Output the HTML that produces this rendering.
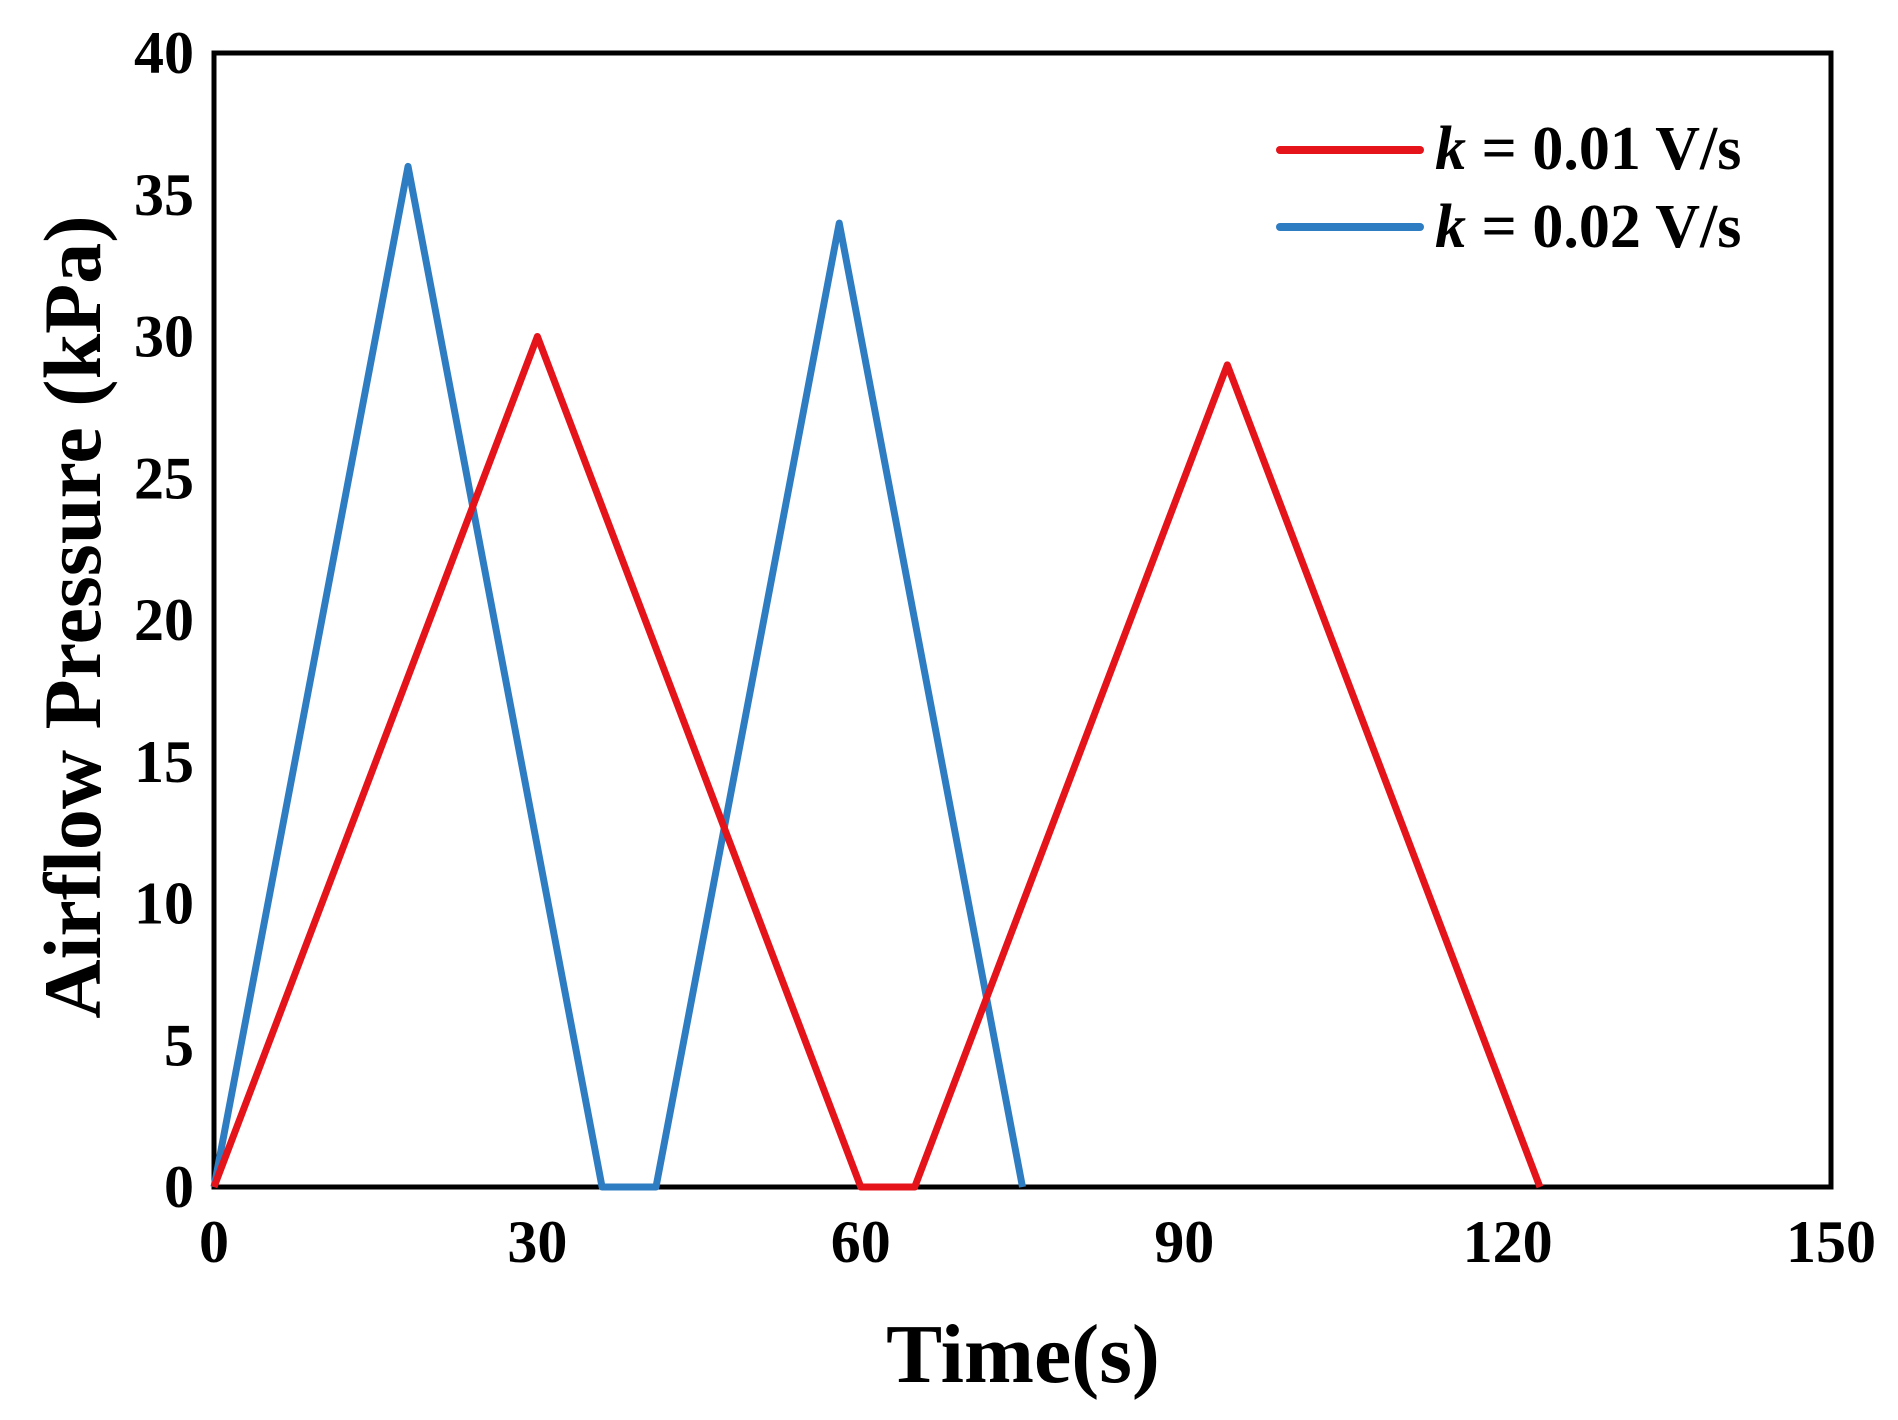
<!DOCTYPE html>
<html><head><meta charset="utf-8"><style>
html,body{margin:0;padding:0;background:#fff}
svg{display:block}
text{font-family:"Liberation Serif",serif;font-weight:bold;fill:#000}
</style></head><body>
<svg id="chart" width="1898" height="1420">
<rect x="214" y="53" width="1617" height="1134" fill="none" stroke="#000" stroke-width="5"/>
<g id="series"></g>
<g id="ticks"></g>
<text x="1023" y="1382" font-size="84" text-anchor="middle">Time(s)</text>
<text transform="translate(100,617) rotate(-90)" font-size="82" text-anchor="middle">Airflow Pressure (kPa)</text>
<g>
<g>
<line x1="1280" y1="150" x2="1420" y2="150" stroke="#e5141b" stroke-width="8" stroke-linecap="round"/>
<text x="1435" y="169" font-size="62"><tspan font-style="italic">k</tspan> = 0.01 V/s</text>
</g>
<g>
<line x1="1280" y1="227" x2="1420" y2="227" stroke="#2e7dc2" stroke-width="8" stroke-linecap="round"/>
<text x="1435" y="247" font-size="62"><tspan font-style="italic">k</tspan> = 0.02 V/s</text>
</g>
</g>
</svg>
<script>
const xTicks = [0, 30, 60, 90, 120, 150];
const yTicks = [0, 5, 10, 15, 20, 25, 30, 35, 40];
const redTime = [0, 30, 60, 65, 94, 123];
const redPressure = [0, 30, 0, 0, 29, 0];
const blueTime = [0, 18, 36, 41, 58, 75];
const bluePressure = [0, 36, 0, 0, 34, 0];

const NS = 'http://www.w3.org/2000/svg';
const L = 214, R = 1831, T = 53, B = 1187;
function xs(v){ return L + (v - 0) / (150 - 0) * (R - L); }
function ys(v){ return B - (v - 0) / (40 - 0) * (B - T); }

const tg = document.getElementById('ticks');
xTicks.forEach(t => {
  const tx = document.createElementNS(NS, 'text');
  tx.setAttribute('x', xs(t));
  tx.setAttribute('y', 1262);
  tx.setAttribute('font-size', '60');
  tx.setAttribute('text-anchor', 'middle');
  tx.textContent = t;
  
  
  tg.appendChild(tx);
});
yTicks.forEach(t => {
  const tx = document.createElementNS(NS, 'text');
  tx.setAttribute('x', 194);
  tx.setAttribute('y', ys(t) + 20);
  tx.setAttribute('font-size', '60');
  tx.setAttribute('text-anchor', 'end');
  tx.textContent = t;
  
  
  tg.appendChild(tx);
});

const sg = document.getElementById('series');
function drawLine(xsArr, ysArr, color, name){
  const p = document.createElementNS(NS, 'polyline');
  p.setAttribute('points', xsArr.map((v,i) => xs(v) + ',' + ys(ysArr[i])).join(' '));
  p.setAttribute('fill', 'none');
  p.setAttribute('stroke', color);
  p.setAttribute('stroke-width', '7');
  p.setAttribute('stroke-linejoin', 'round');
  
  
  sg.appendChild(p);
}
drawLine(blueTime, bluePressure, '#2e7dc2', 'series-k002-line');
drawLine(redTime, redPressure, '#e5141b', 'series-k001-line');
</script>
</body></html>
